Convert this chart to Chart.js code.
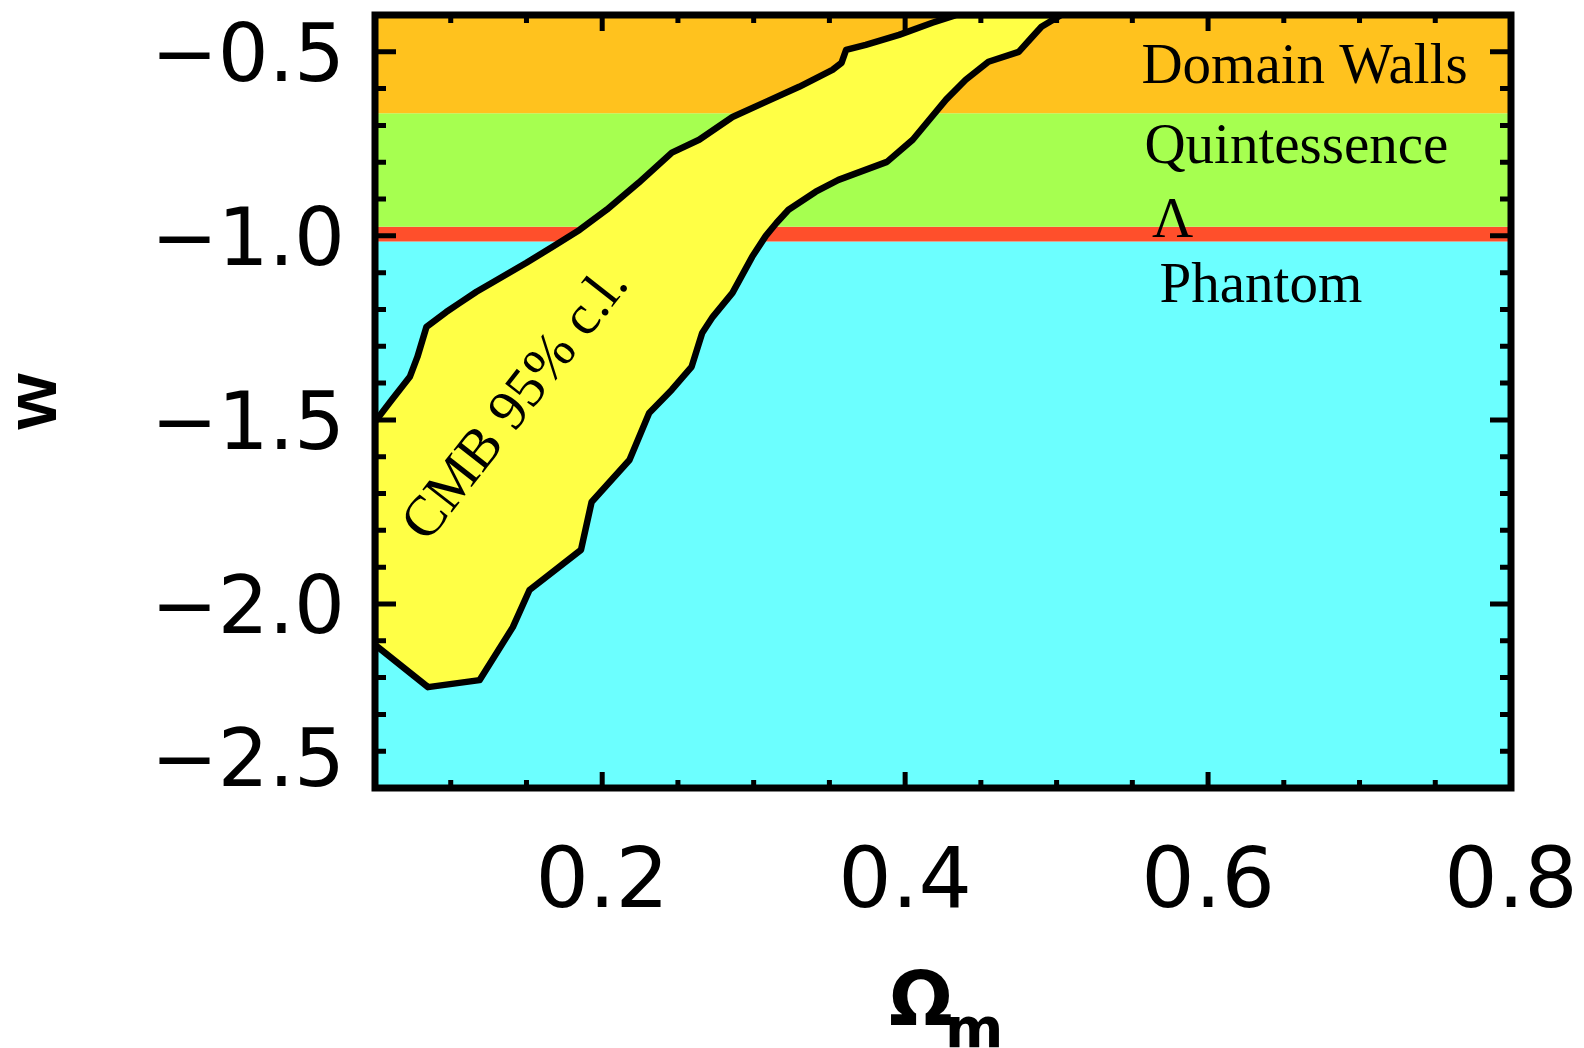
<!DOCTYPE html>
<html>
<head>
<meta charset="utf-8">
<script src="https://cdn.jsdelivr.net/npm/chart.js@4.4.1/dist/chart.umd.min.js"></script>
<style>
  html, body { margin: 0; padding: 0; background: #ffffff; }
  #wrap { width: 1584px; height: 1048px; position: relative; }
</style>
</head>
<body>
<div id="wrap"><canvas id="c"></canvas></div>
<script>
// CMB 95% confidence contour in the (Omega_m, w) plane, as one closed path
// (clipped by the left edge of the plot at Omega_m = 0.05 and the top at w = -0.4)
const cmbOmega = [
  0.050, 0.061, 0.073, 0.078, 0.084, 0.097, 0.106, 0.117, 0.127, 0.150,
  0.167, 0.185, 0.203, 0.224, 0.246, 0.264, 0.286, 0.308, 0.330, 0.352,
  0.358, 0.361, 0.374, 0.396, 0.418, 0.434,
  0.503, 0.490, 0.484, 0.475, 0.455, 0.440, 0.427, 0.405, 0.388, 0.356,
  0.341, 0.323, 0.315, 0.308, 0.299, 0.286, 0.273, 0.266, 0.259, 0.246,
  0.231, 0.218, 0.193, 0.186, 0.152, 0.141, 0.119, 0.085, 0.050, 0.050
];
const cmbW = [
  -1.505, -1.446, -1.383, -1.329, -1.247, -1.207, -1.182, -1.152, -1.128, -1.073,
  -1.030, -0.984, -0.929, -0.856, -0.774, -0.739, -0.677, -0.636, -0.595, -0.549,
  -0.530, -0.495, -0.481, -0.454, -0.421, -0.400,
  -0.400, -0.432, -0.459, -0.500, -0.527, -0.576, -0.630, -0.739, -0.799, -0.848,
  -0.880, -0.929, -0.965, -1.000, -1.057, -1.155, -1.220, -1.264, -1.356, -1.418,
  -1.481, -1.609, -1.723, -1.853, -1.962, -2.063, -2.207, -2.226, -2.111, -1.505
];

// Equation-of-state regions (horizontal bands in w)
const regionNames  = ['Domain Walls', 'Quintessence', 'Λ', 'Phantom'];
const regionTop    = [-0.4, -2 / 3, -0.975, -1.015];
const regionBottom = [-2 / 3, -0.975, -1.015, -2.5];
const regionColors = ['#ffc21e', '#a6ff50', '#ff4f2b', '#6cffff'];
// where each region name is written (left end of its baseline)
const regionLabelOmega = [0.556, 0.558, 0.563, 0.568];
const regionLabelW     = [-0.584, -0.802, -1.003, -1.179];
const cmbLabelAt = [0.1515, -1.484];

// axis ranges and labelled ticks
const xRange = [0.05, 0.8];
const yRange = [-2.5, -0.4];
const xLabelValues = [0.2, 0.4, 0.6, 0.8];
const xLabelText   = ['0.2', '0.4', '0.6', '0.8'];
const yLabelValues = [-2.5, -2.0, -1.5, -1.0, -0.5];
const yLabelText   = ['−2.5', '−2.0', '−1.5', '−1.0', '−0.5'];

const findLabel = (values, v) => values.findIndex(u => Math.abs(u - v) < 1e-6);

const bandDatasets = regionNames.map((name, i) => ({
  label: name,
  data: [{ x: xRange[0], y: regionTop[i] }, { x: xRange[1], y: regionTop[i] }],
  backgroundColor: regionColors[i],
  borderColor: 'transparent',
  borderWidth: 0,
  pointRadius: 0,
  fill: { value: regionBottom[i] },
  order: 1 + i
}));

const contourDataset = {
  label: 'CMB 95% c.l.',
  data: cmbOmega.map((om, i) => ({ x: om, y: cmbW[i] })),
  backgroundColor: '#ffff45',
  borderColor: '#000000',
  borderWidth: 6.5,
  borderJoinStyle: 'round',
  pointRadius: 0,
  tension: 0,
  fill: 'shape',
  order: 0
};

// keep the plot box where the layout padding puts it
const noScalePadding = s => {
  s.paddingTop = 0; s.paddingBottom = 0; s.paddingLeft = 0; s.paddingRight = 0;
};

// labels, inward tick marks, frame and the Omega_m axis title
const overlay = {
  id: 'overlay',
  afterDatasetsDraw(chart) {
    const { ctx, chartArea: a, scales: { x, y } } = chart;
    ctx.save();
    ctx.fillStyle = '#000';
    ctx.font = '57px "Liberation Serif", "Times New Roman", serif';
    ctx.textAlign = 'left';
    ctx.textBaseline = 'alphabetic';
    regionNames.forEach((t, i) => {
      ctx.fillText(t, x.getPixelForValue(regionLabelOmega[i]), y.getPixelForValue(regionLabelW[i]));
    });

    ctx.save();
    ctx.translate(x.getPixelForValue(cmbLabelAt[0]), y.getPixelForValue(cmbLabelAt[1]));
    ctx.rotate(-52 * Math.PI / 180);
    ctx.textAlign = 'center';
    ctx.fillText('CMB 95% c.l.', 0, 0);
    ctx.restore();

    ctx.strokeStyle = '#000';
    ctx.lineWidth = 5;
    ctx.lineCap = 'butt';
    ctx.beginPath();
    x.ticks.forEach(t => {
      const px = x.getPixelForValue(t.value);
      const len = findLabel(xLabelValues, t.value) >= 0 ? 16 : 8;
      ctx.moveTo(px, a.bottom); ctx.lineTo(px, a.bottom - len);
      ctx.moveTo(px, a.top);    ctx.lineTo(px, a.top + len);
    });
    y.ticks.forEach(t => {
      const py = y.getPixelForValue(t.value);
      const len = findLabel(yLabelValues, t.value) >= 0 ? 21 : 11;
      ctx.moveTo(a.left, py);  ctx.lineTo(a.left + len, py);
      ctx.moveTo(a.right, py); ctx.lineTo(a.right - len, py);
    });
    ctx.stroke();

    ctx.lineWidth = 7;
    ctx.lineJoin = 'miter';
    ctx.strokeRect(a.left, a.top, a.right - a.left, a.bottom - a.top);

    const cx = (a.left + a.right) / 2;
    ctx.textAlign = 'left';
    ctx.font = 'bold 75px "DejaVu Sans"';
    ctx.fillText('Ω', cx - 54, a.bottom + 237);
    ctx.font = 'bold 56px "DejaVu Sans"';
    ctx.fillText('m', cx + 2, a.bottom + 259);
    ctx.restore();
  }
};

new Chart(document.getElementById('c'), {
  type: 'line',
  data: { datasets: [contourDataset, ...bandDatasets] },
  options: {
    responsive: true,
    maintainAspectRatio: false,
    animation: false,
    layout: { padding: { left: 0, right: 73, top: 15, bottom: 0 } },
    plugins: { legend: { display: false }, tooltip: { enabled: false } },
    scales: {
      x: {
        type: 'linear',
        min: xRange[0],
        max: xRange[1],
        grid: { display: false, drawTicks: false },
        border: { display: false },
        afterFit: s => { s.height = 260; noScalePadding(s); },
        ticks: {
          stepSize: 0.05,
          autoSkip: false,
          maxRotation: 0,
          padding: 55,
          color: '#000',
          font: { family: '"DejaVu Sans"', size: 84, lineHeight: 1.0 },
          callback: v => {
            const i = findLabel(xLabelValues, v);
            return i < 0 ? '' : xLabelText[i];
          }
        }
      },
      y: {
        type: 'linear',
        min: yRange[0],
        max: yRange[1],
        grid: { display: false, drawTicks: false },
        border: { display: false },
        afterFit: s => { s.width = 375; noScalePadding(s); },
        title: {
          display: true,
          text: 'w',
          color: '#000',
          padding: { top: 0, bottom: 0 },
          font: { family: '"Liberation Sans", Arial, sans-serif', size: 72, weight: 'bold', lineHeight: 1.0 }
        },
        ticks: {
          stepSize: 0.1,
          autoSkip: false,
          padding: 30,
          labelOffset: 8,
          color: '#000',
          font: { family: '"DejaVu Sans"', size: 80, lineHeight: 0.775 },
          callback: v => {
            const i = findLabel(yLabelValues, v);
            if (i < 0) return '';
            return i === 0 ? [yLabelText[i], ''] : yLabelText[i];
          }
        }
      }
    }
  },
  plugins: [overlay]
});
</script>
</body>
</html>
